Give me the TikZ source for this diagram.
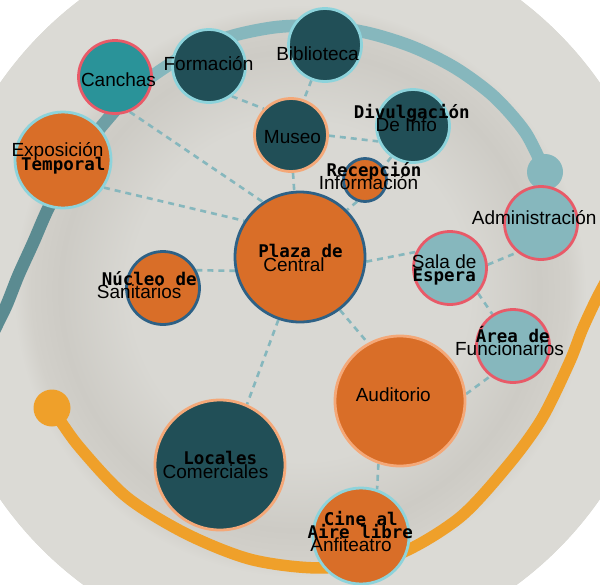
\documentclass[tikz,border=0pt]{standalone}
\usepackage{fontspec}
\newfontfamily\lblfont{Liberation Sans}
\newfontfamily\monofam{DejaVu Sans Mono}
\definecolor{bgc}{HTML}{D9D8D3}
\definecolor{bgdk}{HTML}{CDCBC5}
\definecolor{bgmd}{HTML}{D2D0CA}
\definecolor{bglt}{HTML}{DBDAD5}
\definecolor{corange}{HTML}{D96E28}
\definecolor{cdark}{HTML}{214F57}
\definecolor{cteal}{HTML}{2A9399}
\definecolor{clight}{HTML}{86B7BD}
\definecolor{bcyan}{HTML}{8DD3DB}
\definecolor{bred}{HTML}{E85A68}
\definecolor{borange}{HTML}{F4A878}
\definecolor{bblue}{HTML}{2D6186}
\definecolor{clink}{HTML}{86B7BD}
\definecolor{arcA}{HTML}{86B7BD}
\definecolor{arcB}{HTML}{6E9FA5}
\definecolor{arcC}{HTML}{5B8B91}
\definecolor{arcO}{HTML}{EFA02A}
\pgfdeclarelayer{back}
\pgfsetlayers{back,main}
\pgfdeclareradialshading{ringshade}{\pgfpoint{0bp}{0bp}}{color(0bp)=(bgc); color(11.6bp)=(bgc); color(16.4bp)=(bgdk); color(18.4bp)=(bgmd); color(19.6bp)=(bglt); color(25bp)=(bglt); color(50bp)=(bglt)}
\begin{document}
\begin{tikzpicture}[x=1pt,y=-1pt,
  nd/.style={circle, inner sep=0pt, line width=2.8pt},
  sm/.style={nd, minimum size=73pt},
  md/.style={nd, minimum size=96pt},
  lg/.style={nd, minimum size=130pt},
  xs/.style={nd, minimum size=43pt},
  link/.style={draw=clink, line width=2.6pt, dash pattern=on 6pt off 5pt},
  lr/.style={font=\lblfont\fontsize{19}{21}\selectfont, inner sep=0pt, text height=13.6pt, text depth=0pt, anchor=center},
  lb/.style={font=\monofam\bfseries\fontsize{17.5}{19}\selectfont, inner sep=0pt, text height=12.8pt, text depth=0pt, anchor=center},
  arcline/.style={line width=12.5pt, line cap=butt}
]
\useasboundingbox (0,0) rectangle (600,584);
% nodes
\node[sm, fill=cteal, draw=bred] (canchas) at (115,77) {};
\node[sm, fill=cdark, draw=bcyan] (formacion) at (209,66) {};
\node[sm, fill=cdark, draw=bcyan] (biblio) at (325,45) {};
\node[sm, fill=cdark, draw=borange] (museo) at (291,135) {};
\node[sm, fill=cdark, draw=bcyan] (divulg) at (413,126) {};
\node[xs, fill=corange, draw=bblue] (recep) at (365,180) {};
\node[lg, fill=corange, draw=bblue] (plaza) at (300,257) {};
\node[sm, fill=corange, draw=bblue] (nucleo) at (163,288) {};
\node[md, fill=corange, draw=bcyan] (expo) at (63,160) {};
\node[sm, fill=clight, draw=bred] (admin) at (541,223) {};
\node[sm, fill=clight, draw=bred] (sala) at (450,268) {};
\node[sm, fill=clight, draw=bred] (area) at (513,346) {};
\node[lg, fill=corange, draw=borange] (audit) at (400,401) {};
\node[lg, fill=cdark, draw=borange] (locales) at (220,465) {};
\node[md, fill=corange, draw=bcyan] (cine) at (361,536) {};
% labels
\node[lr] (t-canchas) at (118.5,79.5) {Canchas};
\node[lr] (t-formacion) at (208.5,63.3) {Formación};
\node[lr] (t-biblio) at (317.5,53.3) {Biblioteca};
\node[lr] (t-museo) at (292.5,136.3) {Museo};
\node[lb] (t-divulg1) at (411.8,112.2) {Divulgación};
\node[lr] (t-divulg2) at (406.3,124.5) {De Info};
\node[lb] (t-recep1) at (374,170) {Recepción};
\node[lr] (t-recep2) at (368.5,183) {Información};
\node[lb] (t-plaza1) at (300.5,251.2) {Plaza de};
\node[lr] (t-plaza2) at (294,265) {Central};
\node[lb] (t-nucleo1) at (149.2,278.8) {Núcleo de};
\node[lr] (t-nucleo2) at (139.2,291.7) {Sanitarios};
\node[lr] (t-expo1) at (57.5,149.7) {Exposición};
\node[lb] (t-expo2) at (63.3,164.2) {Temporal};
\node[lr] (t-admin) at (534.2,217.8) {Administración};
\node[lr] (t-sala1) at (444.2,261.7) {Sala de};
\node[lb] (t-sala2) at (444.2,275.2) {Espera};
\node[lb] (t-area1) at (512.7,336.5) {Área de};
\node[lr] (t-area2) at (509.5,348.3) {Funcionarios};
\node[lr] (t-audit) at (393.3,394.7) {Auditorio};
\node[lb] (t-locales1) at (220.2,458.5) {Locales};
\node[lr] (t-locales2) at (215.5,471.7) {Comerciales};
\node[lb] (t-cine1) at (360.8,519.2) {Cine al};
\node[lb] (t-cine2) at (360.3,532.5) {Aire libre};
\node[lr] (t-cine3) at (351,545) {Anfiteatro};
\begin{pgfonlayer}{back}
\fill[bgc] (300,291) circle (365);
\shade[shading=ringshade] (300,291) circle (365);
% teal arc
\draw[arcline, arcA] plot[smooth] coordinates {(545.1,172.0) (525.3,132.3) (493.7,96.3) (455.4,68.0) (413.3,47.1) (368.8,33.1) (323.1,26.0) (277.0,27.0) (231.9,36.0) (189.3,52.5) (150.9,77.0) (133.5,91.6)};
\draw[arcline, arcB] plot[smooth] coordinates {(150.9,77.0) (133.5,91.6) (117.6,107.6) (88.6,142.0) (75.7,160.5)};
\draw[arcline, arcC] plot[smooth] coordinates {(88.6,142.0) (75.7,160.5) (63.5,179.7) (47.3,210.3) (33.1,243.0) (18.4,275.3) (6.4,305.4) (-7.0,333.2) (-19.6,363.8)};
\fill[arcA] (545,172) circle (18);
% orange arc
\draw[arcline, line width=11.5pt, arcO] plot[smooth] coordinates {(52.0,407.8) (78.0,445.4) (126.4,496.8) (186.3,533.8) (252.4,559.8) (324.3,567.9) (396.4,555.0) (459.5,517.7) (508.4,464.8) (541.9,418.6) (569.5,362.2) (582.2,329.7) (595.8,300.3) (609.6,273.8) (622.8,244.6)};
\fill[arcO] (52,408) circle (18.5);
% links
\draw[link] (canchas.-67) -- (plaza.124);
\draw[link] (expo.-34.7) -- (plaza.147.8);
\draw[link] (formacion.-53) -- (museo.136);
\draw[link] (biblio.-111.5) -- (museo.70);
\draw[link] (museo.-1.5) -- (divulg.-156);
\draw[link] (museo.-87) -- (plaza.95);
\draw[link] (divulg.-125) -- (recep.36);
\draw[link] (recep.-110) -- (plaza.45.6);
\draw[link] (nucleo.28.2) -- (plaza.-168.6);
\draw[link] (plaza.-4.3) -- (sala.155.4);
\draw[link] (sala.5.9) -- (admin.-129.8);
\draw[link] (sala.-42.9) -- (area.123.3);
\draw[link] (plaza.-109.2) -- (locales.66.5);
\draw[link] (plaza.-53.6) -- (audit.119.2);
\draw[link] (audit.6.8) -- (area.-127.5);
\draw[link] (audit.-109.2) -- (cine.71.2);
\end{pgfonlayer}
\end{tikzpicture}
\end{document}
